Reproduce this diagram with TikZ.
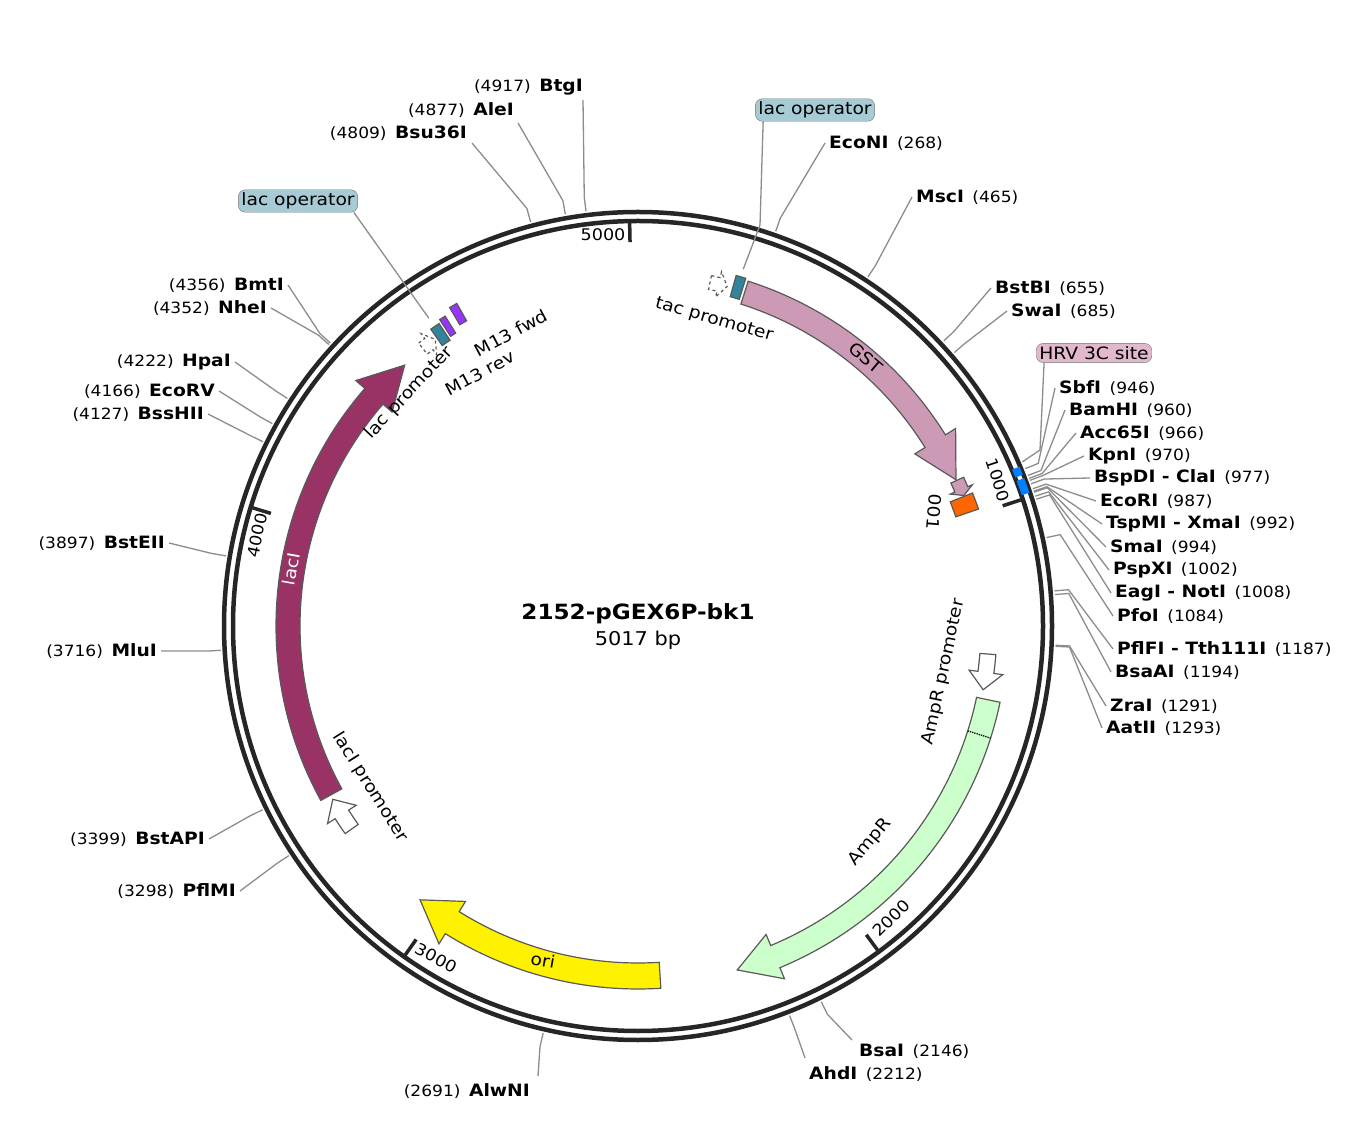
\documentclass[tikz,border=0pt]{standalone}
\usepackage{fontspec}
\setmainfont{DejaVu Sans}[FakeStretch=1.1]
\begin{document}
\newcommand\PP[2]{({638+(#2)*cos(90-0.071756*(#1))},{496+(#2)*sin(90-0.071756*(#1))})}
\newcommand\farrow[7]{%style, from, to, head, rin, rout, headext
 \pgfmathsetmacro\sA{90-0.071756*#2}\pgfmathsetmacro\sB{90-0.071756*(#3-#4)}\pgfmathsetmacro\sT{90-0.071756*#3}%
 \pgfmathsetmacro\rM{(#5+#6)/2}%
 \draw[#1] (\sA:#6) arc[start angle=\sA,end angle=\sB,radius=#6] -- (\sB:#6+#7) -- (\sT:\rM) -- (\sB:#5-#7) -- (\sB:#5) arc[start angle=\sB,end angle=\sA,radius=#5] -- cycle;}
\newcommand\segbox[5]{%
 \pgfmathsetmacro\sA{90-0.071756*#2}\pgfmathsetmacro\sB{90-0.071756*#3}%
 \draw[#1] (\sA:#5) arc[start angle=\sA,end angle=\sB,radius=#5] -- (\sB:#4) arc[start angle=\sB,end angle=\sA,radius=#4] -- cycle;}
\newcommand\renz[6]{\node[enz,anchor=west] (#1) at (#5,{1122-#6}) {\textbf{#2}\hspace{0.5em}{\fontsize{15.5}{18}\selectfont(#3)}};
 \draw[lead] \PP{#4}{418} -- \PP{#4}{432} -- ([xshift=-3pt]#1.west);}
\newcommand\lenz[6]{\node[enz,anchor=east] (#1) at (#5,{1122-#6}) {{\fontsize{15.5}{18}\selectfont(#3)}\hspace{0.5em}\textbf{#2}};
 \draw[lead] \PP{#4}{418} -- \PP{#4}{432} -- ([xshift=3pt]#1.east);}
\begin{tikzpicture}[x=1pt,y=1pt,
 enz/.style={font=\fontsize{17}{20}\selectfont,inner sep=1pt},
 lead/.style={draw=gray!90,line width=1.3},
 bb/.style={draw=black!85,line width=4.5},
 tick/.style={draw=black!85,line width=3.5},
 tl/.style={font=\fontsize{16}{18}\selectfont},
 fl/.style={font=\fontsize{17}{20}\selectfont},
 feat/.style={draw=black!65,line width=1.2},
 tagbox/.style={draw=black!55,rounded corners=7,inner sep=3pt,font=\fontsize{17}{20}\selectfont}]
\useasboundingbox (0,0) rectangle (1372,1122);
\definecolor{gst}{HTML}{CC9AB4}\definecolor{laci}{HTML}{993366}
\definecolor{amp}{HTML}{CCFFCC}\definecolor{teal}{HTML}{31849B}
\definecolor{mpur}{HTML}{9933FF}\definecolor{lop}{HTML}{A7CBD5}\definecolor{hrv}{HTML}{E2B8CD}
% backbone
\draw[bb] (638,496) circle (414);
\draw[bb] (638,496) circle (405);
\begin{scope}[shift={(638,496)}]
\pgfmathsetmacro\a{90-0.071756*938}\pgfmathsetmacro\b{90-0.071756*955}
\draw[draw={rgb,255:red,0;green,128;blue,255},line width=8] (\a:409.5) arc[start angle=\a,end angle=\b,radius=409.5];
\pgfmathsetmacro\a{90-0.071756*962}\pgfmathsetmacro\b{90-0.071756*992}
\draw[draw={rgb,255:red,0;green,128;blue,255},line width=8] (\a:409.5) arc[start angle=\a,end angle=\b,radius=409.5];
% features
\farrow{feat,fill=gst}{247}{910}{100}{338}{362}{12}
\farrow{feat,fill=laci}{3361}{4434}{100}{338}{362}{12}
\farrow{feat,fill=yellow}{2458}{3045}{90}{337}{363}{12}
\farrow{feat,fill=amp}{1420}{2284}{90}{346}{370}{12}
\farrow{feat,fill=white}{1318}{1400}{40}{343}{359}{9}
\farrow{feat,fill=white}{3270}{3350}{40}{343}{359}{9}
\farrow{feat,fill=white,dashed}{165}{205}{20}{344}{358}{6}
\farrow{feat,fill=white,dashed}{4490}{4525}{18}{344}{358}{6}
\segbox{feat,fill=teal}{4530}{4552}{342}{362}
\segbox{feat,fill=mpur}{4558}{4572}{345}{365}
\segbox{feat,fill=mpur}{4590}{4608}{350}{370}
\segbox{feat,fill=teal}{218}{240}{342}{364}
\farrow{feat,fill=gst}{912}{950}{15}{344}{358}{5}
\segbox{feat,fill={rgb,255:red,255;green,102;blue,0}}{952}{990}{336}{360}
\pgfmathsetmacro\a{90-0.071756*1500}
\draw[densely dotted,line width=1.3] (\a:346) -- (\a:370);
% ticks
\foreach \t in {1000,2000,3000,4000,5000}{\pgfmathsetmacro\a{90-0.071756*\t}\draw[tick] (\a:403) -- (\a:384);}
\end{scope}
% tick labels
\node[tl] (t5) at (603,{1122-235}) {5000};
\node[tl,rotate=-72] (t1) at (998,{1122-480}) {1000};
\node[tl,rotate=45] (t2) at (891,{1122-918}) {2000};
\node[tl,rotate=-28] (t3) at (436,{1122-958}) {3000};
\node[tl,rotate=78] (t4) at (257,{1122-535}) {4000};
% feature labels
\node[fl,rotate=-40] (lgst) at (866,{1122-358}) {GST};
\node[fl,rotate=80,white] (llaci) at (291,{1122-569}) {lacI};
\node[fl,rotate=-10] (lori) at (543,{1122-960}) {ori};
\node[fl,rotate=50] (lamp) at (870,{1122-842}) {AmpR};
\node[fl,rotate=78] (lampp) at (944,{1122-672}) {AmpR promoter};
\node[fl,rotate=-58] (llacip) at (370,{1122-787}) {lacI promoter};
\node[fl,rotate=-16] (ltac) at (714,{1122-320}) {tac promoter};
\node[fl,rotate=47] (llacp) at (409,{1122-393}) {lac promoter};
\node[fl,rotate=28] (lm13f) at (511,{1122-333}) {M13 fwd};
\node[fl,rotate=28] (lm13r) at (480,{1122-373}) {M13 rev};
\node[fl,rotate=-95] (l001) at (934,{1122-512}) {001};
% title
\node[font=\fontsize{21}{24}\selectfont\bfseries] (title) at (638,{1122-614}) {2152-pGEX6P-bk1};
\node[font=\fontsize{19}{22}\selectfont] (len) at (638,{1122-640}) {5017 bp};
% tag boxes
\node[tagbox,fill=lop] (lo1) at (815,{1122-110}) {lac operator};
\node[tagbox,fill=lop] (lo2) at (298,{1122-201}) {lac operator};
\node[tagbox,fill=hrv] (hrvl) at (1094,{1122-353}) {HRV 3C site};
\path \PP{229}{372} coordinate (lo1p);
\path \PP{4540}{372} coordinate (lo2p);
\path \PP{932}{418} coordinate (hrvp);
\draw[lead] ([xshift=8pt]lo1.south west) -- (760,{1122-225}) -- (lo1p);
\draw[lead] ([xshift=-4pt]lo2.south east) -- (lo2p);
\draw[lead] ([xshift=8pt]hrvl.south west) -- (1040,{1122-450}) -- (hrvp);
% enzymes right
\renz{econi}{EcoNI}{268}{268}{828}{143}
\renz{msci}{MscI}{465}{465}{915}{197}
\renz{bstbi}{BstBI}{655}{655}{994}{288}
\renz{swai}{SwaI}{685}{685}{1010}{311}
\renz{sbfi}{SbfI}{946}{946}{1058}{388}
\renz{bamhi}{BamHI}{960}{960}{1068}{410}
\renz{acc}{Acc65I}{966}{966}{1079}{433}
\renz{kpni}{KpnI}{970}{970}{1087}{456}
\renz{bspdi}{BspDI - ClaI}{977}{977}{1093}{478}
\renz{ecori}{EcoRI}{987}{987}{1099}{501}
\renz{tspmi}{TspMI - XmaI}{992}{992}{1105}{524}
\renz{smai}{SmaI}{994}{994}{1109}{547}
\renz{pspxi}{PspXI}{1002}{1002}{1112}{570}
\renz{eagi}{EagI - NotI}{1008}{1008}{1114}{593}
\renz{pfoi}{PfoI}{1084}{1084}{1116}{616}
\renz{pflfi}{PflFI - Tth111I}{1187}{1187}{1116}{649}
\renz{bsaai}{BsaAI}{1194}{1194}{1114}{672}
\renz{zrai}{ZraI}{1291}{1291}{1109}{706}
\renz{aatii}{AatII}{1293}{1293}{1105}{728}
% enzymes left
\lenz{pflmi}{PflMI}{3298}{3298}{237}{891}
\lenz{bstapi}{BstAPI}{3399}{3399}{206}{839}
\lenz{mlui}{MluI}{3716}{3716}{158}{651}
\lenz{bsteii}{BstEII}{3897}{3897}{166}{543}
\lenz{bsshii}{BssHII}{4127}{4127}{205}{414}
\lenz{ecorv}{EcoRV}{4166}{4166}{216}{391}
\lenz{hpai}{HpaI}{4222}{4222}{232}{362}
\lenz{nhei}{NheI}{4352}{4352}{268}{308}
\lenz{bmti}{BmtI}{4356}{4356}{285}{285}
% top / bottom enzymes
\node[enz,anchor=east] (bsu) at (468,{1122-133}) {{\fontsize{15.5}{18}\selectfont(4809)}\hspace{0.5em}\textbf{Bsu36I}};
\node[enz,anchor=east] (alei) at (515,{1122-110}) {{\fontsize{15.5}{18}\selectfont(4877)}\hspace{0.5em}\textbf{AleI}};
\node[enz,anchor=east] (btgi) at (584,{1122-87}) {{\fontsize{15.5}{18}\selectfont(4917)}\hspace{0.5em}\textbf{BtgI}};
\node[enz,anchor=west] (bsai) at (858,{1122-1051}) {\textbf{BsaI}\hspace{0.5em}{\fontsize{15.5}{18}\selectfont(2146)}};
\node[enz,anchor=west] (ahdi) at (808,{1122-1074}) {\textbf{AhdI}\hspace{0.5em}{\fontsize{15.5}{18}\selectfont(2212)}};
\node[enz,anchor=east] (alwni) at (531,{1122-1091}) {{\fontsize{15.5}{18}\selectfont(2691)}\hspace{0.5em}\textbf{AlwNI}};
\draw[lead] \PP{4809}{418} -- \PP{4809}{432} -- (472,{1122-143});
\draw[lead] \PP{4877}{418} -- \PP{4877}{432} -- (518,{1122-123});
\draw[lead] \PP{4917}{418} -- \PP{4917}{432} -- (583,{1122-100});
\draw[lead] \PP{2146}{418} -- \PP{2146}{432} -- (852,{1122-1040});
\draw[lead] \PP{2212}{418} -- \PP{2212}{432} -- (805,{1122-1058});
\draw[lead] \PP{2691}{418} -- \PP{2691}{432} -- (538,{1122-1076});
\end{tikzpicture}
\end{document}
